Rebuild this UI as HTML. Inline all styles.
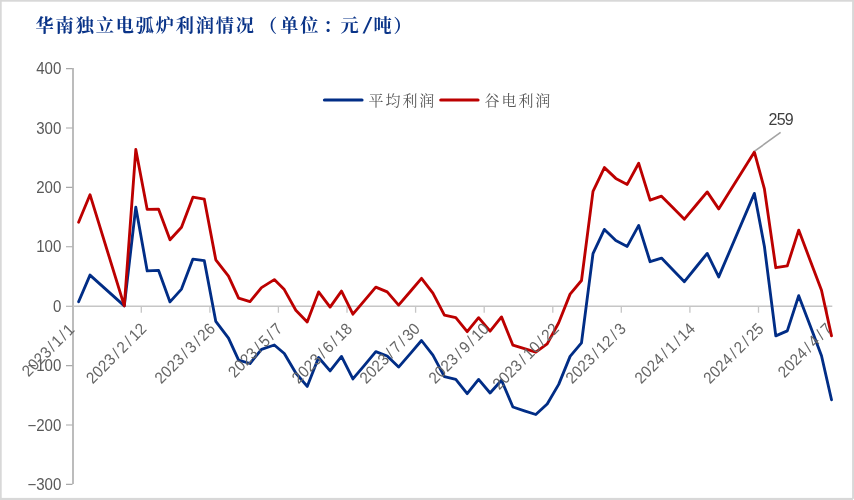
<!DOCTYPE html>
<html lang="zh-CN">
<head>
<meta charset="utf-8">
<title>华南独立电弧炉利润情况</title>
<style>
html,body{margin:0;padding:0;background:#fff;}
body{width:854px;height:500px;overflow:hidden;position:relative;font-family:"Liberation Sans","Noto Sans CJK SC",sans-serif;}
#title{position:absolute;left:35.6px;top:12.7px;height:27px;line-height:27px;font-family:"Liberation Serif","Noto Serif CJK SC",serif;font-weight:700;font-size:18.2px;color:#0a3488;white-space:nowrap;letter-spacing:1.83px;}
svg{position:absolute;left:0;top:0;}
.yl text{font-family:"Liberation Sans",sans-serif;font-size:16.2px;fill:#595959;}
.xl text{font-family:"Liberation Sans",sans-serif;font-size:16.2px;fill:#666;letter-spacing:0.2px;}
.lg text{font-family:"Liberation Serif","Noto Serif CJK SC",serif;font-size:15px;letter-spacing:1.9px;fill:#595959;font-weight:400;}
</style>
</head>
<body>
<div id="title">华南独立电弧炉利润情况<span style="margin-left:3.2px;margin-right:1.3px">（</span>单位<span style="position:relative;left:3px">：</span>元<span style="display:inline-block;width:13px;text-align:center;letter-spacing:0;font-family:'Liberation Sans',sans-serif;transform:translate(0.5px,-0.6px) skewX(-17deg) scaleY(1.22)">/</span>吨）</div>
<svg width="854" height="500" viewBox="0 0 854 500">
<g fill="#d8d8d8"><rect x="0" y="0" width="854" height="1.7"/><rect x="0" y="0" width="1.7" height="500"/><rect x="852.1" y="0" width="1.9" height="500"/><rect x="0" y="497.9" width="854" height="2.1"/><rect x="853" y="498.8" width="1" height="1.2" fill="#fff"/></g>
<g fill="none">
<path d="M73 67.9V484" stroke="#b9b9b9" stroke-width="1.9"/>
<path d="M66 68.6H72.5M66 128.0H72.5M66 187.4H72.5M66 246.8H72.5M66 306.2H72.5M66 365.6H72.5M66 425.0H72.5M66 484.4H72.5" stroke="#a9a9a9" stroke-width="1.1"/>
<path d="M73 306.3H832.3" stroke="#c6c6c6" stroke-width="1.4"/>
<path d="M141.3 306.3V312.8M209.9 306.3V312.8M278.4 306.3V312.8M347.0 306.3V312.8M415.6 306.3V312.8M484.2 306.3V312.8M552.8 306.3V312.8M621.3 306.3V312.8M689.9 306.3V312.8M758.5 306.3V312.8M827.1 306.3V312.8" stroke="#c6c6c6" stroke-width="1.3"/>
</g>
<g class="yl">
<text transform="translate(61.3 74.1) scale(0.93 1)" text-anchor="end">400</text>
<text transform="translate(61.3 133.5) scale(0.93 1)" text-anchor="end">300</text>
<text transform="translate(61.3 192.9) scale(0.93 1)" text-anchor="end">200</text>
<text transform="translate(61.3 252.3) scale(0.93 1)" text-anchor="end">100</text>
<text transform="translate(61.3 311.7) scale(0.93 1)" text-anchor="end">0</text>
<text transform="translate(61.3 371.1) scale(0.93 1)" text-anchor="end">−100</text>
<text transform="translate(61.3 430.5) scale(0.93 1)" text-anchor="end">−200</text>
<text transform="translate(61.3 489.9) scale(0.93 1)" text-anchor="end">−300</text>
</g>
<g fill="none" stroke-width="2.85" stroke-linejoin="round" stroke-linecap="round">
<polyline stroke="#012d86" points="78.6,301.7 90.0,275.1 124.3,305.9 135.8,207.2 147.2,270.9 158.6,270.4 170.0,301.9 181.5,289.1 192.9,259.1 204.3,260.7 215.8,321.4 228.5,338.1 238.6,360.2 250.0,363.5 261.5,349.3 274.3,345.0 284.3,353.5 295.8,373.0 307.2,386.4 318.6,357.5 330.1,370.9 341.5,356.4 352.9,378.9 364.4,365.3 375.8,351.7 387.2,356.0 398.6,367.1 410.1,353.9 421.5,340.5 432.9,355.2 444.4,376.7 455.8,379.4 467.2,393.7 478.6,379.4 490.1,393.0 501.5,380.2 512.9,407.0 524.4,410.8 535.8,414.5 547.2,404.0 558.7,384.4 570.1,356.4 581.5,342.8 593.0,253.6 604.4,229.4 615.8,240.5 627.2,246.4 638.7,225.4 650.1,261.7 661.5,258.1 673.0,269.9 684.4,281.7 695.8,267.5 707.2,253.4 718.7,276.9 754.4,193.4 764.4,246.4 775.8,335.9 787.3,330.9 798.7,295.7 810.1,325.6 821.5,355.7 831.5,399.8"/>
<polyline stroke="#bc0000" points="78.6,222.2 90.0,194.7 124.3,305.9 135.8,149.5 147.2,209.4 158.6,209.2 170.0,239.8 181.5,227.2 192.9,197.2 204.3,199.2 215.8,259.8 228.5,276.1 238.6,298.2 250.0,301.6 261.5,287.6 274.3,279.6 284.3,289.6 295.8,310.2 307.2,321.9 318.6,291.9 330.1,307.1 341.5,291.1 352.9,314.2 364.4,300.6 375.8,287.1 387.2,291.9 398.6,305.1 410.1,291.7 421.5,278.3 432.9,293.1 444.4,315.2 455.8,317.7 467.2,331.7 478.6,317.7 490.1,331.2 501.5,316.9 512.9,345.2 524.4,348.7 535.8,352.2 547.2,343.9 558.7,322.7 570.1,294.1 581.5,280.5 593.0,191.4 604.4,167.6 615.8,178.4 627.2,184.4 638.7,163.3 650.1,200.2 661.5,196.2 673.0,207.7 684.4,219.2 695.8,205.5 707.2,191.9 718.7,208.9 754.4,152.1 764.4,188.9 775.8,267.7 787.3,265.9 798.7,230.1 810.1,260.2 821.5,290.2 831.5,335.9"/>
</g>
<g class="xl">
<text transform="translate(75.5 330.4) rotate(-45) scale(0.93 1)" text-anchor="end">2023<tspan dx="1.7">/</tspan><tspan dx="1.7">1</tspan><tspan dx="1.7">/</tspan><tspan dx="1.7">1</tspan></text>
<text transform="translate(147.6 329.6) rotate(-45) scale(0.93 1)" text-anchor="end">2023<tspan dx="2.4">/</tspan><tspan dx="2.4">2</tspan><tspan dx="2.4">/</tspan><tspan dx="2.4">12</tspan></text>
<text transform="translate(216.2 329.6) rotate(-45) scale(0.93 1)" text-anchor="end">2023<tspan dx="2.4">/</tspan><tspan dx="2.4">3</tspan><tspan dx="2.4">/</tspan><tspan dx="2.4">26</tspan></text>
<text transform="translate(283.5 329.6) rotate(-45) scale(0.93 1)" text-anchor="end">2023<tspan dx="2.4">/</tspan><tspan dx="2.4">5</tspan><tspan dx="2.4">/</tspan><tspan dx="2.4">7</tspan></text>
<text transform="translate(353.3 329.6) rotate(-45) scale(0.93 1)" text-anchor="end">2023<tspan dx="2.4">/</tspan><tspan dx="2.4">6</tspan><tspan dx="2.4">/</tspan><tspan dx="2.4">18</tspan></text>
<text transform="translate(421.1 329.6) rotate(-45) scale(0.93 1)" text-anchor="end">2023<tspan dx="2.4">/</tspan><tspan dx="2.4">7</tspan><tspan dx="2.4">/</tspan><tspan dx="2.4">30</tspan></text>
<text transform="translate(490.1 329.6) rotate(-45) scale(0.93 1)" text-anchor="end">2023<tspan dx="2.4">/</tspan><tspan dx="2.4">9</tspan><tspan dx="2.4">/</tspan><tspan dx="2.4">10</tspan></text>
<text transform="translate(560.1 329.6) rotate(-45) scale(0.93 1)" text-anchor="end">2023<tspan dx="2.4">/</tspan><tspan dx="2.4">10</tspan><tspan dx="2.4">/</tspan><tspan dx="2.4">22</tspan></text>
<text transform="translate(627.0 329.6) rotate(-45) scale(0.93 1)" text-anchor="end">2023<tspan dx="2.4">/</tspan><tspan dx="2.4">12</tspan><tspan dx="2.4">/</tspan><tspan dx="2.4">3</tspan></text>
<text transform="translate(696.2 329.6) rotate(-45) scale(0.93 1)" text-anchor="end">2024<tspan dx="2.4">/</tspan><tspan dx="2.4">1</tspan><tspan dx="2.4">/</tspan><tspan dx="2.4">14</tspan></text>
<text transform="translate(764.8 329.6) rotate(-45) scale(0.93 1)" text-anchor="end">2024<tspan dx="2.4">/</tspan><tspan dx="2.4">2</tspan><tspan dx="2.4">/</tspan><tspan dx="2.4">25</tspan></text>
<text transform="translate(833.2 329.6) rotate(-45) scale(0.93 1)" text-anchor="end">2024<tspan dx="2.4">/</tspan><tspan dx="2.4">4</tspan><tspan dx="2.4">/</tspan><tspan dx="2.4">7</tspan></text>
</g>
<path d="M754.6 151.2L780.6 132.4" stroke="#a3a3a3" stroke-width="1.6" fill="none"/>
<text x="780.7" y="125.4" text-anchor="middle" font-family="Liberation Sans,sans-serif" font-size="16px" fill="#404040" letter-spacing="-0.8">259</text>
<g class="lg">
<path d="M324.5 100H362" stroke="#012d86" stroke-width="3.2" stroke-linecap="round"/>
<text x="368.6" y="105.8">平均利润</text>
<path d="M440.8 100H478" stroke="#bc0000" stroke-width="3.2" stroke-linecap="round"/>
<text x="484.6" y="105.8">谷电利润</text>
</g>
</svg>
</body>
</html>
